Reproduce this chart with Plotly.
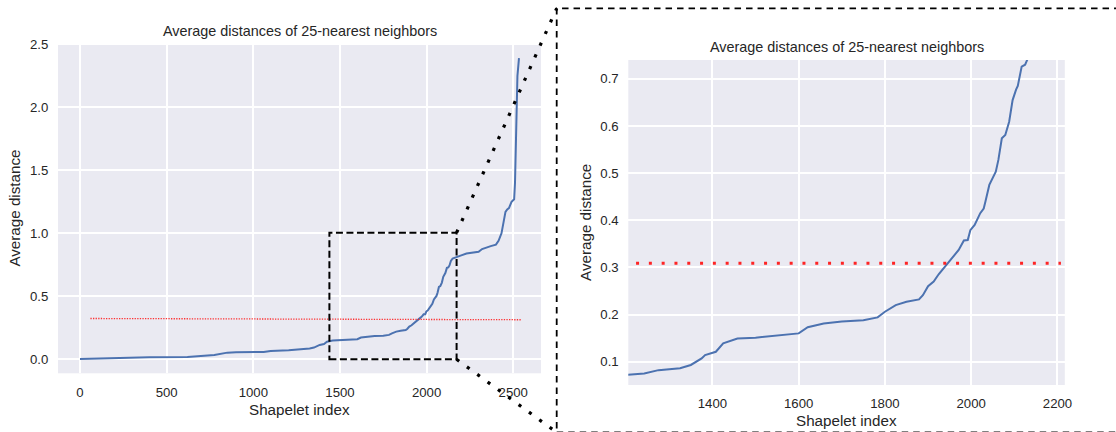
import plotly.graph_objects as go

# Sorted average 25-NN distance per shapelet
shapelet_idx = [0, 60, 140, 220, 400, 620, 680, 775, 850, 900,
                1060, 1100, 1204, 1242, 1275, 1325, 1350, 1375, 1383, 1408,
                1425, 1458, 1500, 1533, 1600, 1621, 1658, 1700, 1750, 1783,
                1800, 1825, 1850, 1879, 1888, 1900, 1913, 1925, 1942, 1958,
                1971, 1983, 1992, 1998, 2008, 2021, 2029, 2033, 2042, 2057,
                2063, 2071, 2079, 2088, 2096, 2104, 2108, 2117, 2125, 2132,
                2140, 2150, 2170, 2200, 2230, 2260, 2300, 2320, 2345, 2370,
                2400, 2415, 2432, 2445, 2455, 2465, 2475, 2490, 2505, 2510,
                2514, 2518, 2524, 2533]
avg_distance = [0.003, 0.005, 0.009, 0.016, 0.017, 0.018, 0.026, 0.034, 0.053, 0.056,
                0.058, 0.066, 0.072, 0.075, 0.082, 0.086, 0.093, 0.107, 0.114, 0.121,
                0.139, 0.149, 0.151, 0.154, 0.160, 0.173, 0.181, 0.185, 0.188, 0.194,
                0.206, 0.220, 0.227, 0.232, 0.241, 0.260, 0.270, 0.286, 0.305, 0.323,
                0.337, 0.357, 0.358, 0.379, 0.390, 0.415, 0.425, 0.440, 0.475, 0.503,
                0.528, 0.574, 0.581, 0.609, 0.655, 0.677, 0.685, 0.726, 0.730, 0.745,
                0.780, 0.800, 0.812, 0.825, 0.840, 0.846, 0.853, 0.875, 0.889, 0.898,
                0.910, 0.940, 1.000, 1.100, 1.170, 1.190, 1.200, 1.250, 1.270, 1.400,
                1.700, 2.000, 2.250, 2.390]

# Threshold lines
thr_full_x = [60, 2550]
thr_full_y = [0.324, 0.314]
thr_zoom_x = [1223, 2208]
thr_zoom_y = [0.309, 0.309]

# Zoomed region marked on the full view
zoom_box_x = [1439, 2173]
zoom_box_y = [0.0, 1.005]

TITLE = "Average distances of 25-nearest neighbors"
X_LABEL = "Shapelet index"
Y_LABEL = "Average distance"

W, H = 1116, 432
BG = "#EAEAF2"
TXT = "#262626"
BLUE = "#4C72B0"
FONT = "Liberation Sans, Arial, sans-serif"


def px_dom_x(a, b):
    return [a / W, b / W]


def px_dom_y(top, bottom):
    return [(H - bottom) / H, (H - top) / H]


# Axes placement (pixels) and ranges
x1_dom, y1_dom = px_dom_x(58, 541), px_dom_y(43.3, 373.3)
x1_rng, y1_rng = [-127, 2660], [-0.111, 2.508]
x2_dom, y2_dom = px_dom_x(628.3, 1064.8), px_dom_y(60, 385)
x2_rng, y2_rng = [1205, 2217], [0.0505, 0.740]


def to_paper(xv, yv, xr, yr, xd, yd):
    px = xd[0] + (xv - xr[0]) / (xr[1] - xr[0]) * (xd[1] - xd[0])
    py = yd[0] + (yv - yr[0]) / (yr[1] - yr[0]) * (yd[1] - yd[0])
    return px, py


fig = go.Figure()

# Full view
fig.add_trace(go.Scatter(x=shapelet_idx, y=avg_distance, mode="lines",
                         line=dict(color=BLUE, width=2), xaxis="x", yaxis="y",
                         showlegend=False, hoverinfo="skip"))
fig.add_trace(go.Scatter(x=thr_full_x, y=thr_full_y, mode="lines",
                         line=dict(color="rgba(255,30,30,0.9)", width=1.3, dash="1.3px,1.3px"),
                         xaxis="x", yaxis="y", showlegend=False, hoverinfo="skip"))

# Zoomed view
fig.add_trace(go.Scatter(x=shapelet_idx, y=avg_distance, mode="lines",
                         line=dict(color=BLUE, width=2), xaxis="x2", yaxis="y2",
                         showlegend=False, hoverinfo="skip"))
fig.add_trace(go.Scatter(x=thr_zoom_x, y=thr_zoom_y, mode="lines",
                         line=dict(color="rgba(255,25,25,0.95)", width=3, dash="3px,9.8px"),
                         xaxis="x2", yaxis="y2", showlegend=False, hoverinfo="skip"))

axis_common = dict(showgrid=True, gridcolor="white", gridwidth=1.5, zeroline=False,
                   showline=False, ticks="outside", tickcolor="rgba(0,0,0,0)",
                   tickfont=dict(family=FONT, size=13.2, color=TXT), automargin=False)

fig.update_layout(
    width=W, height=H,
    margin=dict(l=0, r=0, t=0, b=0),
    paper_bgcolor="white", plot_bgcolor=BG,
    xaxis=dict(domain=x1_dom, range=x1_rng, dtick=500, tick0=0, anchor="y",
               ticklen=7, **axis_common),
    yaxis=dict(domain=y1_dom, range=y1_rng, dtick=0.5, tick0=0, tickformat=".1f",
               anchor="x", ticklen=6, **axis_common),
    xaxis2=dict(domain=x2_dom, range=x2_rng, dtick=200, tick0=0, anchor="y2",
                ticklen=6, **axis_common),
    yaxis2=dict(domain=y2_dom, range=y2_rng, dtick=0.1, tick0=0, tickformat=".1f",
                anchor="x2", ticklen=6, **axis_common),
)

# Titles and axis labels
ann = []
for xd, yd, title_y, xlab_y, ylab_x in [(x1_dom, y1_dom, 31, 409.3, 14.3),
                                         (x2_dom, y2_dom, 46.7, 420.7, 585.4)]:
    cx = (xd[0] + xd[1]) / 2
    cy = (yd[0] + yd[1]) / 2
    ann.append(dict(text=TITLE, x=cx, y=(H - title_y) / H, xref="paper", yref="paper",
                    showarrow=False, xanchor="center", yanchor="middle",
                    font=dict(family=FONT, size=14.4, color=TXT)))
    ann.append(dict(text=X_LABEL, x=cx, y=(H - xlab_y) / H, xref="paper", yref="paper",
                    showarrow=False, xanchor="center", yanchor="middle",
                    font=dict(family=FONT, size=15.2, color=TXT)))
    ann.append(dict(text=Y_LABEL, x=ylab_x / W, y=cy, xref="paper", yref="paper",
                    showarrow=False, xanchor="center", yanchor="middle", textangle=-90,
                    font=dict(family=FONT, size=15.2, color=TXT)))
fig.update_layout(annotations=ann)

shapes = []
# Dashed box around the zoomed region
shapes.append(dict(type="rect", xref="x", yref="y",
                   x0=zoom_box_x[0], x1=zoom_box_x[1], y0=zoom_box_y[0], y1=zoom_box_y[1],
                   line=dict(color="black", width=2, dash="7px,3.5px"), layer="above"))

# Dashed frame around the inset panel (bottom edge sits at the page border)
frame_left, frame_top = 556.7 / W, (H - 8.3) / H
frame_bottom = (H - 432.4) / H
shapes.append(dict(type="rect", xref="paper", yref="paper",
                   x0=frame_left, x1=1.02, y0=frame_bottom, y1=frame_top,
                   line=dict(color="black", width=1.8, dash="6.5px,5px")))

# Dotted connectors from the box corners to the frame corners
box_top = to_paper(zoom_box_x[1], zoom_box_y[1], x1_rng, y1_rng, x1_dom, y1_dom)
box_bot = to_paper(zoom_box_x[1], zoom_box_y[0], x1_rng, y1_rng, x1_dom, y1_dom)
for (bx, by), fy in [(box_top, frame_top), (box_bot, frame_bottom)]:
    shapes.append(dict(type="line", xref="paper", yref="paper",
                       x0=bx, y0=by, x1=frame_left, y1=fy,
                       line=dict(color="black", width=3.2, dash="3.2px,9.6px")))
fig.update_layout(shapes=shapes)

fig.write_html("out.html")
